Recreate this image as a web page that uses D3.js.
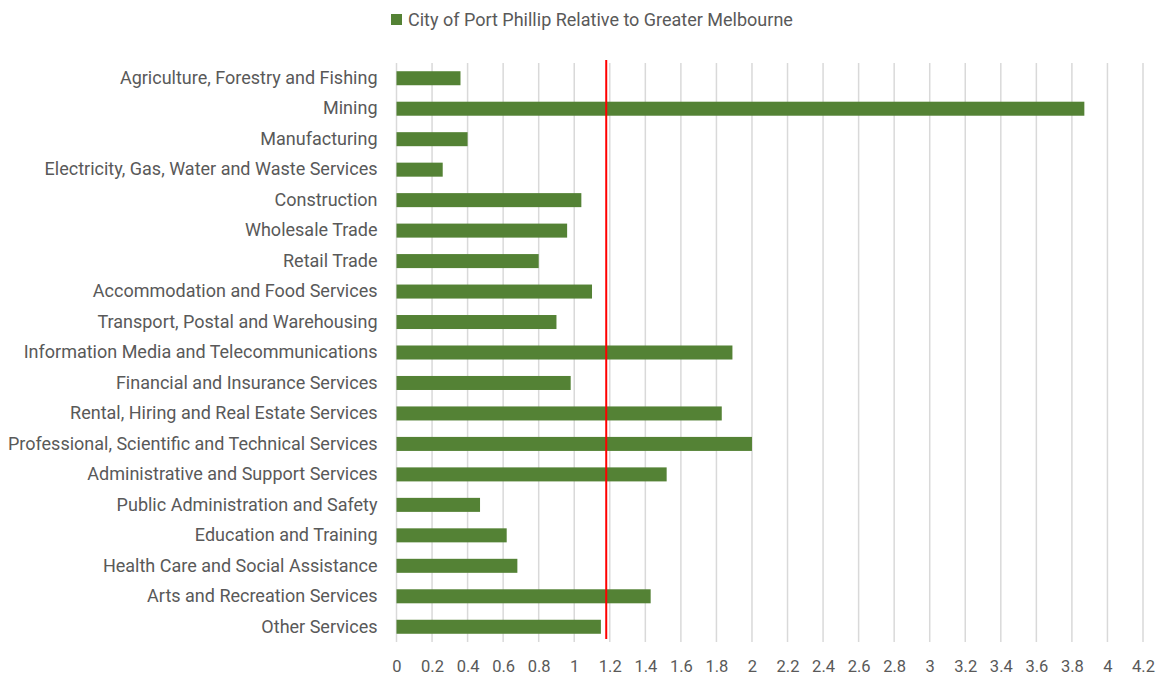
<!DOCTYPE html>
<html>
<head>
<meta charset="utf-8">
<script src="https://cdn.jsdelivr.net/npm/d3@7"></script>
<style>
  body { margin: 0; background: #fff; }
  text { font-family: Roboto, "Noto Sans", sans-serif; fill: #595959; }
</style>
</head>
<body>
<svg></svg>
<script>
// data
var categories = [
  "Agriculture, Forestry and Fishing", "Mining", "Manufacturing",
  "Electricity, Gas, Water and Waste Services", "Construction", "Wholesale Trade",
  "Retail Trade", "Accommodation and Food Services", "Transport, Postal and Warehousing",
  "Information Media and Telecommunications", "Financial and Insurance Services",
  "Rental, Hiring and Real Estate Services", "Professional, Scientific and Technical Services",
  "Administrative and Support Services", "Public Administration and Safety",
  "Education and Training", "Health Care and Social Assistance",
  "Arts and Recreation Services", "Other Services"
];
var values = [0.36, 3.87, 0.40, 0.26, 1.04, 0.96, 0.80, 1.10, 0.90, 1.89, 0.98,
  1.83, 2.00, 1.52, 0.47, 0.62, 0.68, 1.43, 1.15];
var tickValues = [0, 0.2, 0.4, 0.6, 0.8, 1, 1.2, 1.4, 1.6, 1.8, 2, 2.2, 2.4, 2.6, 2.8,
  3, 3.2, 3.4, 3.6, 3.8, 4, 4.2];
var refValue = [1.18];
var seriesName = "City of Port Phillip Relative to Greater Melbourne";

var width = 1159, height = 675;
var margin = {top: 63, right: 16, bottom: 33, left: 396.5};

var svg = d3.select('svg')
  .attr('width', width)
  .attr('height', height);

var x = d3.scaleLinear()
  .domain([0, 4.2])
  .range([margin.left, width - margin.right]);

var y = d3.scaleBand()
  .domain(categories)
  .range([margin.top, height - margin.bottom])
  .paddingInner(0.54)
  .paddingOuter(0.27);

// gridlines
svg.append('g')
  .selectAll('line')
  .data(tickValues)
  .enter()
  .append('line')
  .attr('x1', function(d) { return x(d); })
  .attr('x2', function(d) { return x(d); })
  .attr('y1', margin.top)
  .attr('y2', height - margin.bottom)
  .attr('stroke', '#d9d9d9')
  .attr('stroke-width', 1.5);

// bars
svg.append('g')
  .selectAll('rect')
  .data(values)
  .enter()
  .append('rect')
  .attr('x', x(0))
  .attr('y', function(d, i) { return y(categories[i]); })
  .attr('width', function(d) { return x(d) - x(0); })
  .attr('height', y.bandwidth())
  .attr('fill', '#548235');

// reference line
svg.append('g')
  .selectAll('line')
  .data(refValue)
  .enter()
  .append('line')
  .attr('x1', function(d) { return x(d); })
  .attr('x2', function(d) { return x(d); })
  .attr('y1', 60)
  .attr('y2', 639)
  .attr('stroke', '#ff0000')
  .attr('stroke-width', 2);

// x axis
var xAxis = d3.axisBottom(x)
  .tickValues(tickValues)
  .tickSize(0)
  .tickPadding(0)
  .tickFormat(function(d) { return d3.format('')(+d.toFixed(1)); });

var xAxisEle = svg.append('g')
  .attr('transform', 'translate(0,' + (height - margin.bottom + 18) + ')')
  .call(xAxis);
xAxisEle.select('.domain').remove();
xAxisEle.selectAll('text')
  .attr('font-size', 16.5)
  .attr('dy', '0.75em')
  .style('font-family', 'Roboto, sans-serif')
  .attr('fill', '#595959');

// y axis
var yAxis = d3.axisLeft(y)
  .tickSize(0)
  .tickPadding(19);

var yAxisEle = svg.append('g')
  .attr('transform', 'translate(' + margin.left + ',0)')
  .call(yAxis);
yAxisEle.select('.domain').remove();
yAxisEle.selectAll('text')
  .attr('font-size', 18)
  .style('font-family', 'Roboto, sans-serif')
  .attr('fill', '#595959');

// legend
var legend = svg.append('g')
  .attr('transform', 'translate(391,14)');
legend.append('rect')
  .attr('width', 11)
  .attr('height', 11)
  .attr('fill', '#548235');
legend.append('text')
  .attr('x', 17)
  .attr('y', 6)
  .attr('dy', '0.35em')
  .attr('font-size', 18)
  .text(seriesName);
</script>
</body>
</html>
